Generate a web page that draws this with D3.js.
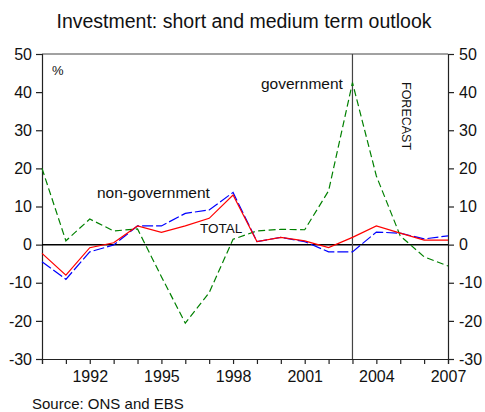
<!DOCTYPE html>
<html>
<head>
<meta charset="utf-8">
<script src="https://cdn.jsdelivr.net/npm/d3@7/dist/d3.min.js"></script>
<style>
  html, body { margin: 0; padding: 0; background: #fff; }
  svg { display: block; font-family: "Liberation Sans", Arial, sans-serif; }
</style>
</head>
<body>
<svg id="chart" width="485" height="412"></svg>
<script>
// Annual growth in investment, % (2004 onwards is forecast)
const years = [1990, 1991, 1992, 1993, 1994, 1995, 1996, 1997, 1998, 1999,
               2000, 2001, 2002, 2003, 2004, 2005, 2006, 2007];
const government    = [20.0, 1.0, 6.7, 3.6, 4.1, -8.4, -20.6, -12.6, 1.4, 3.6,
                       4.0, 3.9, 14.1, 42.5, 18.0, 2.3, -3.2, -5.6];
const nonGovernment = [-4.5, -9.1, -1.9, -0.1, 4.9, 4.9, 8.2, 9.1, 13.7, 0.8,
                       1.9, 0.8, -1.9, -1.9, 3.3, 3.0, 1.5, 2.3];
const total         = [-2.3, -8.0, -0.8, 0.5, 4.9, 3.2, 4.9, 6.9, 13.0, 0.8,
                       1.9, 1.0, -0.8, 1.9, 4.9, 3.0, 1.2, 1.2];
const yTicks = [-30, -20, -10, 0, 10, 20, 30, 40, 50];
const xLabelYears = [1992, 1995, 1998, 2001, 2004, 2007];
const forecastStart = 2003;

const svg = d3.select("#chart");
const margin = { left: 42, right: 37, top: 54, bottom: 53 };
const W = 485, H = 412;

const x = d3.scaleLinear().domain([1990, 2007]).range([margin.left, W - margin.right]);
const y = d3.scaleLinear().domain([-30, 50]).range([H - margin.bottom, margin.top]);

// Title
svg.append("text")
  .attr("x", 244).attr("y", 28)
  .attr("text-anchor", "middle")
  .attr("font-size", 19.5)
  .attr("fill", "#111")
  .text("Investment: short and medium term outlook");

// Frame top edge
svg.append("line")
  .attr("x1", x(1990)).attr("x2", x(2007))
  .attr("y1", y(50)).attr("y2", y(50))
  .attr("stroke", "#444").attr("stroke-width", 1);

// Plain hyphen for negative values
const fmt = d => String(d);

// Left axis
const gL = svg.append("g")
  .attr("transform", `translate(${x(1990)},0)`)
  .call(d3.axisLeft(y).tickValues(yTicks).tickSize(6).tickPadding(4).tickFormat(fmt));
// Right axis
const gR = svg.append("g")
  .attr("transform", `translate(${x(2007)},0)`)
  .call(d3.axisRight(y).tickValues(yTicks).tickSize(6).tickPadding(5).tickFormat(fmt));
// Bottom axis: tick every year, label every third
const gB = svg.append("g")
  .attr("transform", `translate(0,${y(-30)})`)
  .call(d3.axisBottom(x).tickValues(years).tickSize(5).tickPadding(7)
    .tickFormat(d => xLabelYears.includes(d) ? String(d) : ""));

[gL, gR, gB].forEach(g => {
  g.select(".domain").attr("stroke", "#222").attr("stroke-width", 1.2);
  g.selectAll(".tick line").attr("stroke", "#222").attr("stroke-width", 1.2);
  g.selectAll(".tick text")
    .attr("font-family", "Liberation Sans, Arial, sans-serif")
    .attr("font-size", 16).attr("fill", "#111");
});

// Zero line
svg.append("line")
  .attr("x1", x(1990)).attr("x2", x(2007))
  .attr("y1", y(0)).attr("y2", y(0))
  .attr("stroke", "#000").attr("stroke-width", 1.5);

// Forecast divider
svg.append("line")
  .attr("x1", x(forecastStart)).attr("x2", x(forecastStart))
  .attr("y1", y(50)).attr("y2", y(-30))
  .attr("stroke", "#444").attr("stroke-width", 1.2);

// Series lines
const line = d3.line().x((d, i) => x(years[i])).y(d => y(d));
const series = [
  { values: government,    color: "#008000", dash: "7,3.5" },
  { values: nonGovernment, color: "#0000ff", dash: "11,3" },
  { values: total,         color: "#ff0000", dash: null }
];
series.forEach(s => {
  svg.append("path")
    .datum(s.values)
    .attr("d", line)
    .attr("fill", "none")
    .attr("stroke", s.color)
    .attr("stroke-width", 1.2)
    .attr("stroke-dasharray", s.dash);
});

// Annotations
const ann = (tx, ty, t, size) => svg.append("text")
  .attr("x", tx).attr("y", ty).attr("font-size", size).attr("fill", "#111").text(t);
ann(52, 75, "%", 13);
ann(261, 89, "government", 15.5);
ann(97, 198, "non-government", 15.5);
ann(200, 233, "TOTAL", 13.5);

svg.append("text")
  .attr("transform", "translate(401.5,82) rotate(90)")
  .attr("font-size", 12.5).attr("fill", "#111")
  .text("FORECAST");

// Source note
svg.append("text")
  .attr("x", 32).attr("y", 409)
  .attr("font-size", 15).attr("fill", "#111")
  .text("Source: ONS and EBS");
</script>
</body>
</html>
